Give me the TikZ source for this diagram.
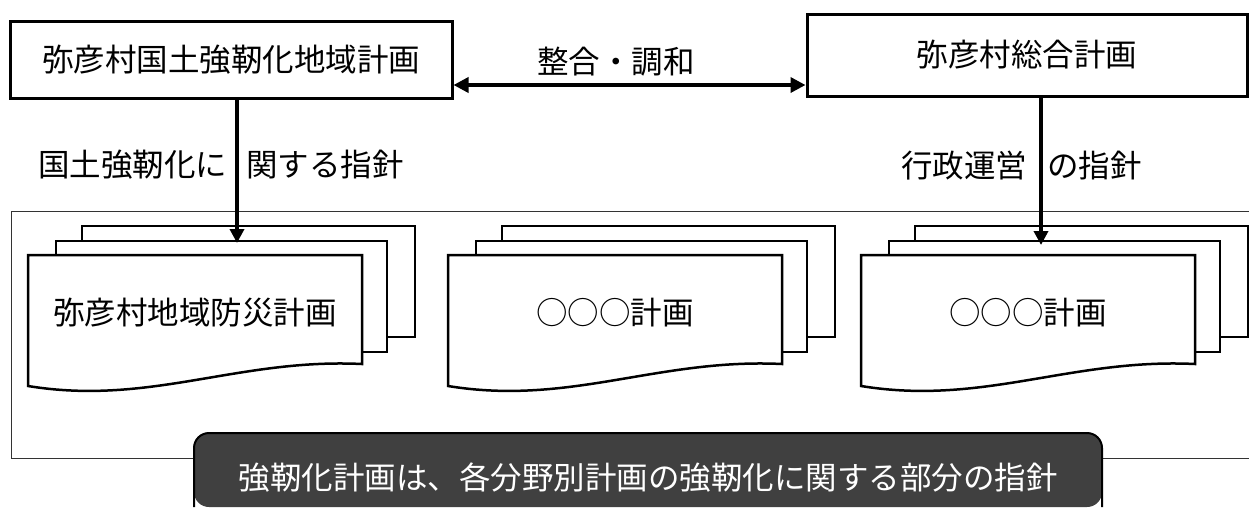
\documentclass[tikz,border=0pt]{standalone}
\usepackage{fontspec}
\setmainfont{Noto Sans CJK JP}
\usetikzlibrary{arrows.meta}
\definecolor{darkfill}{RGB}{64,64,64}
\begin{document}
\begin{tikzpicture}[x=1pt,y=-1pt,
  lbl/.style={font=\fontsize{31.5}{36}\selectfont, inner sep=0pt},
  planbox/.style={draw, line width=3pt, fill=white, inner sep=0pt},
  docline/.style={draw, line width=2.5pt, fill=white, line join=miter},
  conn/.style={line width=3.5pt, -{Triangle[length=14pt,width=14pt]}},
  dblconn/.style={line width=3.5pt, {Triangle[length=15pt,width=15pt]}-{Triangle[length=15pt,width=15pt]}},
  frame/.style={line width=1pt, draw=black!80},
]
\useasboundingbox (0,0) rectangle (1249,507);

% outer frame (open on the right, cut by the picture edge)
\draw[frame] (1249,211) -- (11,211) -- (11,458) -- (1249,458);

% document stacks
\foreach \s/\n/\t in {0/docA/弥彦村地域防災計画, 420/docB/○○○計画, 833/docC/○○○計画} {
  \begin{scope}[xshift=\s pt]
    \draw[docline] (82,226) rectangle (415,337);
    \draw[docline] (56,241) rectangle (387,352);
    \draw[docline] (28,255) -- (362,255) -- (362,364)
       .. controls (238,358) and (150,406) .. (28,386) -- cycle;
    \node[lbl] (\n) at (195,313) {\t};
  \end{scope}
}

% top plan boxes
\node[planbox, lbl, minimum width=442pt, minimum height=77pt] (topL) at (231,59.5) {弥彦村国土強靭化地域計画};
\node[planbox, lbl, minimum width=440pt, minimum height=82pt] (topR) at (1027,55) {弥彦村総合計画};

% harmonisation arrow
\coordinate (hy) at (0,85);
\draw[dblconn] (topL.east |- hy) -- (topR.west |- hy);
\node[lbl] (harm) at (616,62) {整合・調和};

% guideline arrows
\coordinate (tipL) at (237,243);
\coordinate (tipR) at (1041,245);
\draw[conn] (topL.south -| tipL) -- (tipL);
\draw[conn] (topR.south -| tipR) -- (tipR);
\node[lbl] (guideL) at (221,165) {国土強靭化に\hspace{19pt}関する指針};
\node[lbl] (guideR) at (1021.5,166) {行政運営\hspace{20pt}の指針};

% dark note box
\fill[darkfill, rounded corners=15pt] (194,507) -- (194,433) -- (1102,433) -- (1102,507) -- cycle;
\draw[line width=2pt, rounded corners=15pt] (194,507) -- (194,433) -- (1102,433) -- (1102,507);
\node[lbl, text=white] (note) at (648,478) {強靭化計画は、各分野別計画の強靭化に関する部分の指針};
\end{tikzpicture}
\end{document}
